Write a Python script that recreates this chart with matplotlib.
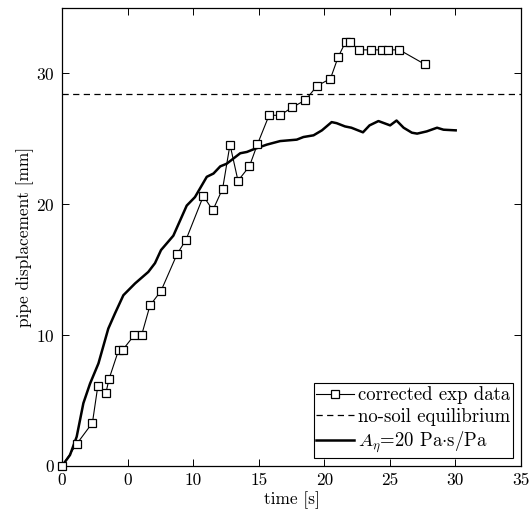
import matplotlib
matplotlib.use("Agg")
import matplotlib.pyplot as plt

plt.rcParams['font.family'] = 'serif'
plt.rcParams['font.serif'] = ['cmr10']
plt.rcParams['mathtext.fontset'] = 'cm'
plt.rcParams['axes.unicode_minus'] = False
plt.rcParams['axes.formatter.use_mathtext'] = True

# corrected experimental data
exp_t = [0, 1.12, 2.32, 2.73, 3.34, 3.59, 4.33, 4.65, 5.51, 6.07, 6.71, 7.55, 8.77,
         9.46, 10.78, 11.50, 12.25, 12.81, 13.42, 14.29, 14.90, 15.79, 16.63, 17.54,
         18.56, 19.45, 20.47, 21.06, 21.62, 21.94, 22.66, 23.54, 24.41, 24.87, 25.73, 27.66]
exp_d = [0, 1.68, 3.3, 6.1, 5.55, 6.66, 8.9, 8.9, 10.0, 10.0, 12.27, 13.38, 16.18,
         17.3, 20.63, 19.54, 21.2, 24.56, 21.8, 22.9, 24.58, 26.8, 26.8, 27.4,
         27.96, 29.05, 29.6, 31.26, 32.4, 32.4, 31.8, 31.8, 31.8, 31.8, 31.8, 30.7]

# no-soil equilibrium
equil_d = 28.4

# model A_eta = 20 Pa s/Pa
mod_t = [0, 0.61, 1.12, 1.63, 2.14, 2.78, 3.53, 4.04, 4.68, 5.57, 6.58, 7.09, 7.55,
         8.49, 9.51, 10.14, 11.04, 11.55, 12.07, 12.56, 13.59, 14.10, 14.60, 15.62,
         16.63, 17.90, 18.41, 19.18, 19.82, 20.56, 20.94, 21.58, 22.07, 22.95, 23.45,
         24.13, 25.02, 25.51, 26.05, 26.68, 27.08, 27.81, 28.60, 29.09, 30.02]
mod_d = [0, 0.84, 2.24, 4.8, 6.3, 7.84, 10.5, 11.66, 13.05, 13.95, 14.83, 15.5, 16.5,
         17.6, 19.9, 20.55, 22.1, 22.35, 22.9, 23.1, 23.9, 24.0, 24.2, 24.56,
         24.83, 24.94, 25.14, 25.27, 25.65, 26.28, 26.2, 25.95, 25.85, 25.5, 26.03,
         26.36, 26.03, 26.4, 25.85, 25.47, 25.4, 25.57, 25.85, 25.7, 25.65]

xticks = [0, 5, 10, 15, 20, 25, 30, 35]
xtick_labels = ["0", "0", "10", "15", "20", "25", "30", "35"]
yticks = [0, 10, 20, 30]

fig = plt.figure(figsize=(5.32, 5.19), dpi=100)
ax = fig.add_axes([62/532, 53/519, 459/532, 458/519])

ax.plot(exp_t, exp_d, '-', color='black', lw=0.8, marker='s', ms=5.3,
        mfc='white', mec='black', mew=0.9, label='corrected exp data', zorder=3,
        clip_on=False)
ax.axhline(equil_d, color='black', lw=0.9, ls=(0, (5, 3.5)), label='no-soil equilibrium')
ax.plot(mod_t, mod_d, '-', color='black', lw=1.8, label=r'$A_\eta$=20 Pa$\cdot$s/Pa')

ax.set_xlim(0, 35)
ax.set_ylim(0, 35)
ax.set_xticks(xticks)
ax.set_xticklabels(xtick_labels)
ax.set_yticks(yticks)
ax.tick_params(direction='in', top=True, right=True, labelsize=12.5, length=5, width=0.7, pad=5)
for s in ax.spines.values():
    s.set_linewidth(0.9)

ax.set_xlabel('time [s]', fontsize=12.5, labelpad=2)
ax.set_ylabel('pipe displacement [mm]', fontsize=12.5, labelpad=2)

leg = ax.legend(loc='lower right', fontsize=13.5, frameon=True, fancybox=False,
                edgecolor='black', framealpha=1, borderpad=0.15, handlelength=2.0,
                handletextpad=0.2, labelspacing=0.2, borderaxespad=0.45)
leg.get_frame().set_linewidth(0.8)

fig.savefig('out.png', dpi=100)
